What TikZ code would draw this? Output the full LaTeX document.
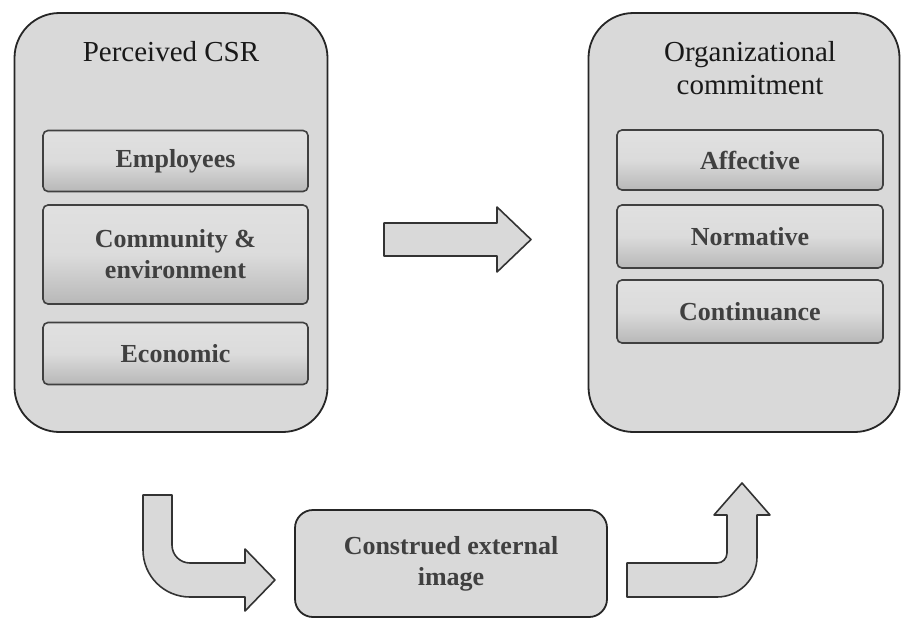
\documentclass[tikz,border=0pt]{standalone}
\usepackage{fontspec}
\setmainfont{Liberation Serif}
\begin{document}
\begin{tikzpicture}[x=1pt,y=-1pt,
  outerbox/.style={draw=black!85, line width=1.8pt, fill=black!15, rounded corners=45pt, inner sep=0pt},
  innerbox/.style={draw=black!75, line width=1.6pt, rounded corners=5pt, top color=black!12, bottom color=black!28, middle color=black!14, inner sep=0pt,
     font=\fontsize{26}{31}\selectfont\bfseries, text=black!75, align=center},
  titletext/.style={font=\fontsize{29}{33}\selectfont, text=black!90, align=center, inner sep=0pt},
  blockarrow/.style={draw=black!80, line width=1.6pt, fill=black!15, line join=round},
  bottombox/.style={draw=black!85, line width=1.8pt, fill=black!15, rounded corners=18pt, inner sep=0pt,
     font=\fontsize{26}{31}\selectfont\bfseries, text=black!75, align=center}]
\useasboundingbox (0,0) rectangle (901,621);
\fill[white] (0,0) rectangle (901,621);

% left container
\node[outerbox, minimum width=313pt, minimum height=419pt] (csr) at (171,222.5) {};
\node[titletext] (csrt) at (171,52) {Perceived CSR};
\node[innerbox, minimum width=265pt, minimum height=61pt] (emp) at (175.5,161) {Employees};
\node[innerbox, minimum width=265pt, minimum height=99pt] (comm) at (175.5,254.5) {Community \&\\environment};
\node[innerbox, minimum width=265pt, minimum height=62pt] (eco) at (175.5,353.5) {Economic};

% right container
\node[outerbox, minimum width=311pt, minimum height=419pt] (oc) at (744,222.5) {};
\node[titletext] (oct) at (750,68) {Organizational\\commitment};
\node[innerbox, minimum width=266pt, minimum height=60pt] (aff) at (750,160) {Affective};
\node[innerbox, minimum width=266pt, minimum height=63pt] (nor) at (750,236.5) {Normative};
\node[innerbox, minimum width=266pt, minimum height=63pt] (con) at (750,311.5) {Continuance};

% bottom box
\node[bottombox, minimum width=312pt, minimum height=107pt] (cei) at (451,563.5) {Construed external\\image};

% middle arrow
\draw[blockarrow] (384,223) -- (497,223) -- (497,207) -- (531,239.5) -- (497,272) -- (497,256) -- (384,256) -- cycle;

% left bent arrow
\draw[blockarrow] (143,495) -- (172,495) -- (172,545)
  .. controls (172,555) and (180,563) .. (190,563)
  -- (245,563) -- (245,549) -- (275,580) -- (245,611) -- (245,597) -- (190,597)
  .. controls (164,597) and (143,576) .. (143,550) -- cycle;

% right bent arrow
\draw[blockarrow] (627,563) -- (717,563)
  .. controls (722.5,563) and (727,558.5) .. (727,553)
  -- (727,515) -- (714,515) -- (742,483) -- (770,515) -- (757,515) -- (757,557)
  .. controls (757,579) and (739,597) .. (717,597)
  -- (627,597) -- cycle;
\end{tikzpicture}
\end{document}
